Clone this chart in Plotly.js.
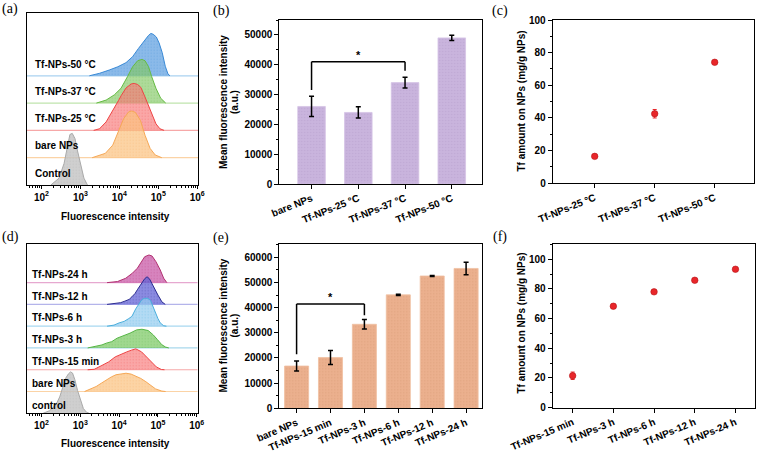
<!DOCTYPE html>
<html><head><meta charset="utf-8">
<script src="https://cdn.plot.ly/plotly-3.0.1.min.js"></script>
<style>html,body{margin:0;padding:0;background:#fff}#chart{width:760px;height:453px}</style>
</head><body><div id="chart"></div>
<script>
// ---------------- DATA ----------------
// (a) flow-cytometry histograms, temperature series (x: fluorescence intensity, y: normalized count)
const aLabels = ['Control', 'bare NPs', 'Tf-NPs-25 °C', 'Tf-NPs-37 °C', 'Tf-NPs-50 °C'];
const aControlX = [174, 282, 380, 468, 537, 617, 724, 832, 1023, 1230, 1514];
const aControlY = [0, 0.25, 0.79, 1.52, 1.85, 1.89, 1.70, 1.28, 0.67, 0.25, 0];
const aBareX = [2000, 4370, 6760, 9550, 12900, 17400, 20900, 25700, 34700, 45700, 61700, 83200, 123000];
const aBareY = [0, 0.16, 0.46, 0.95, 1.43, 1.68, 1.71, 1.66, 1.37, 0.82, 0.34, 0.10, 0];
const a25X = [2190, 3090, 4570, 5500, 7410, 9550, 11200, 14800, 20000, 24000, 29500, 35500, 43600, 56200, 70800, 87100, 110000, 141000];
const a25Y = [0, 0.06, 0.31, 0.50, 0.79, 1.10, 1.28, 1.55, 1.70, 1.72, 1.68, 1.58, 1.29, 0.91, 0.55, 0.24, 0.06, 0];
const a37X = [2570, 4570, 7410, 11000, 16200, 21900, 29500, 38000, 45700, 56200, 67600, 87100, 115000, 155000];
const a37Y = [0, 0.11, 0.30, 0.54, 0.97, 1.33, 1.55, 1.60, 1.55, 1.33, 0.97, 0.54, 0.18, 0];
const a50X = [1700, 3090, 5500, 9120, 14800, 21900, 30900, 39800, 46800, 56200, 64600, 74100, 89100, 105000, 126000, 151000, 178000, 200000];
const a50Y = [0, 0.09, 0.21, 0.33, 0.48, 0.70, 1.00, 1.20, 1.35, 1.48, 1.55, 1.52, 1.42, 1.20, 0.85, 0.35, 0.06, 0];

// (d) flow-cytometry histograms, time series
const dLabels = ['control', 'bare NPs', 'Tf-NPs-15 min', 'Tf-NPs-3 h', 'Tf-NPs-6 h', 'Tf-NPs-12 h', 'Tf-NPs-24 h'];
const dControlX = [110, 162, 234, 295, 355, 417, 490, 562, 631, 724, 851, 1023, 1202, 1445, 1698];
const dControlY = [0, 0.12, 0.38, 0.75, 1.20, 1.60, 1.80, 1.90, 1.85, 1.55, 1.05, 0.55, 0.22, 0.05, 0];
const dBareX = [1290, 1950, 2570, 3470, 4680, 6310, 8320, 11200, 15100, 20400, 26900, 36300, 49000, 66100, 87100, 126000, 158000];
const dBareY = [0, 0.12, 0.23, 0.38, 0.54, 0.67, 0.77, 0.81, 0.84, 0.80, 0.72, 0.60, 0.45, 0.28, 0.12, 0.02, 0];
const d15X = [1550, 2290, 3630, 5370, 7940, 11700, 15800, 20900, 26900, 38000, 51300, 67600, 91200, 123000, 148000];
const d15Y = [0, 0.02, 0.20, 0.36, 0.59, 0.74, 0.82, 0.90, 0.96, 0.82, 0.59, 0.36, 0.13, 0.01, 0];
const d3X = [1550, 2290, 3630, 4680, 6460, 8910, 11700, 15100, 19100, 28200, 38900, 56200, 75900, 97700, 126000, 158000, 191000];
const d3Y = [0, 0.05, 0.14, 0.22, 0.29, 0.45, 0.52, 0.62, 0.68, 0.83, 0.86, 0.80, 0.60, 0.38, 0.15, 0.04, 0];
const d6X = [4900, 7410, 10000, 13500, 17800, 21400, 26900, 32400, 38900, 45700, 55000, 64600, 74100, 87100, 100000, 115000, 141000, 166000];
const d6Y = [0, 0.05, 0.15, 0.22, 0.35, 0.45, 0.80, 1.05, 1.23, 1.28, 1.28, 1.18, 0.90, 0.62, 0.35, 0.15, 0.02, 0];
const d12X = [4900, 7410, 11000, 14100, 18200, 21400, 25700, 30200, 35500, 40700, 45700, 52500, 60300, 69200, 77600, 87100, 100000, 115000, 126000, 155000];
const d12Y = [0, 0.03, 0.08, 0.15, 0.23, 0.35, 0.50, 0.70, 0.88, 1.05, 1.18, 1.27, 1.18, 0.98, 0.80, 0.60, 0.43, 0.25, 0.12, 0];
const d24X = [4900, 9120, 14800, 21900, 29500, 38000, 45700, 58900, 70800, 89100, 115000, 141000, 170000];
const d24Y = [0, 0.05, 0.20, 0.43, 0.66, 0.96, 1.19, 1.27, 1.22, 0.96, 0.58, 0.20, 0];

// (b) mean fluorescence intensity, temperature
const bCats = ['bare NPs', 'Tf-NPs-25 °C', 'Tf-NPs-37 °C', 'Tf-NPs-50 °C'];
const bMean = [26000, 24000, 34000, 49000];
const bErr = [3400, 1900, 1800, 900];
// (e) mean fluorescence intensity, time
const eCats = ['bare NPs', 'Tf-NPs-15 min', 'Tf-NPs-3 h', 'Tf-NPs-6 h', 'Tf-NPs-12 h', 'Tf-NPs-24 h'];
const eMean = [16800, 20200, 33400, 45100, 52600, 55600];
const eErr = [2000, 2800, 1900, 250, 200, 2500];
// (c) Tf amount, temperature
const cCats = ['Tf-NPs-25 °C', 'Tf-NPs-37 °C', 'Tf-NPs-50 °C'];
const cVal = [16.5, 42.6, 74.1];
const cErr = [0.8, 2.6, 0.8];
// (f) Tf amount, time
const fCats = ['Tf-NPs-15 min', 'Tf-NPs-3 h', 'Tf-NPs-6 h', 'Tf-NPs-12 h', 'Tf-NPs-24 h'];
const fVal = [21.5, 68.3, 78.0, 85.8, 93.2];
const fErr = [2.5, 1.4, 0.8, 0.9, 0.9];
// significance brackets: [fromIndex, toIndex, leftFoot, rightFoot, top]
const bBracket = [0, 2, 31500, 38000, 41000];
const eBracket = [0, 2, 21500, 37000, 41500];

// ---------------- STYLE ----------------
const W = 760, H = 453;
const F = 'Liberation Sans, Arial, Helvetica, sans-serif';
const FS = 'Liberation Serif, Times New Roman, serif';
const px = (a, b) => [a / W, b / W];
const py = (top, bot) => [1 - bot / H, 1 - top / H];

const aStyle = [
  {line: '#a9a9a9', fill: 'rgba(195,195,195,0.8)', base: '#d4d4d4'},
  {line: '#f6a856', fill: 'rgba(252,196,130,0.72)', base: '#fbd3a6'},
  {line: '#ee4444', fill: 'rgba(248,120,120,0.65)', base: '#f6a8a8'},
  {line: '#66bb44', fill: 'rgba(130,200,100,0.65)', base: '#bfe4ad'},
  {line: '#3a8ad6', fill: 'rgba(95,160,225,0.72)', base: '#aad2f0'}
];
const dStyle = [
  {line: '#a9a9a9', fill: 'rgba(195,195,195,0.8)', base: '#d4d4d4'},
  {line: '#f6a856', fill: 'rgba(252,196,130,0.72)', base: '#fbd3a6'},
  {line: '#ee4444', fill: 'rgba(248,120,120,0.65)', base: '#f6a8a8'},
  {line: '#55b545', fill: 'rgba(120,200,95,0.7)', base: '#a8d8ec'},
  {line: '#4aaedc', fill: 'rgba(150,205,240,0.72)', base: '#a8d8f0'},
  {line: '#2c2c90', fill: 'rgba(100,100,215,0.75)', base: '#b4b4ea'},
  {line: '#b03070', fill: 'rgba(200,85,165,0.72)', base: '#e6a8d0'}
];
const aSeries = [[aControlX, aControlY], [aBareX, aBareY], [a25X, a25Y], [a37X, a37Y], [a50X, a50Y]];
const dSeries = [[dControlX, dControlY], [dBareX, dBareY], [d15X, d15Y], [d3X, d3Y], [d6X, d6Y], [d12X, d12Y], [d24X, d24Y]];

const traces = [];
const shapes = [];
const annotations = [];

function addHist(series, styles, labels, xa, ya, labelDy, labelX) {
  for (let i = series.length - 1; i >= 0; i--) {
    const [xs, ys] = series[i];
    const st = styles[i];
    traces.push({
      type: 'scatter', mode: 'lines', x: xs, y: ys.map(v => v + i),
      xaxis: xa, yaxis: ya, fill: 'toself', fillcolor: st.fill,
      fillpattern: {shape: '.', bgcolor: st.fill, fgcolor: st.line, fgopacity: 0.3, size: 3, solidity: 0.15},
      line: {color: st.line, width: 1}, hoverinfo: 'skip', showlegend: false
    });
    if (i > 0) {
      shapes.push({type: 'line', xref: xa + ' domain', yref: ya, x0: 0, x1: 1, y0: i, y1: i,
        line: {color: st.base, width: 1.2}, layer: 'below'});
    }
    annotations.push({xref: xa + ' domain', yref: ya, x: labelX, y: i + labelDy, xanchor: 'left', yanchor: 'middle',
      text: labels[i], showarrow: false, font: {family: F, size: 10, color: 'black', weight: 'bold'}});
  }
}
addHist(aSeries, aStyle, aLabels, 'x', 'y', 0.43, 0.036);
addHist(dSeries, dStyle, dLabels, 'x4', 'y4', 0.38, 0.022);

// bars
traces.push({type: 'bar', x: bCats, y: bMean, xaxis: 'x2', yaxis: 'y2', width: 0.59,
  marker: {color: '#c9b4dd', line: {color: '#d6c4e6', width: 0.8},
    pattern: {shape: '.', bgcolor: '#c9b4dd', fgcolor: '#a58cc0', fgopacity: 0.3, size: 3, solidity: 0.15}},
  error_y: {type: 'data', array: bErr, color: 'black', thickness: 1.5, width: 2.5},
  hoverinfo: 'skip', showlegend: false});
traces.push({type: 'bar', x: eCats, y: eMean, xaxis: 'x5', yaxis: 'y5', width: 0.71,
  marker: {color: '#ebb08e', line: {color: '#f0c0a2', width: 0.8},
    pattern: {shape: '.', bgcolor: '#ebb08e', fgcolor: '#c8845c', fgopacity: 0.3, size: 3, solidity: 0.15}},
  error_y: {type: 'data', array: eErr, color: 'black', thickness: 1.5, width: 2.5},
  hoverinfo: 'skip', showlegend: false});

// scatter
const ptStyle = {color: '#e8262a', size: 6.5, line: {color: '#b51418', width: 0.6}};
traces.push({type: 'scatter', mode: 'markers', x: cCats, y: cVal, xaxis: 'x3', yaxis: 'y3', marker: ptStyle,
  error_y: {type: 'data', array: cErr, color: '#e8262a', thickness: 1, width: 2}, hoverinfo: 'skip', showlegend: false});
traces.push({type: 'scatter', mode: 'markers', x: fCats, y: fVal, xaxis: 'x6', yaxis: 'y6', marker: ptStyle,
  error_y: {type: 'data', array: fErr, color: '#e8262a', thickness: 1, width: 2}, hoverinfo: 'skip', showlegend: false});

// significance brackets
function addBracket(br, xa, ya) {
  const [i0, i1, f0, f1, top] = br;
  const ln = {color: 'black', width: 1.5};
  shapes.push({type: 'line', xref: xa, yref: ya, x0: i0, x1: i0, y0: f0, y1: top, line: ln});
  shapes.push({type: 'line', xref: xa, yref: ya, x0: i0, x1: i1, y0: top, y1: top, line: ln});
  shapes.push({type: 'line', xref: xa, yref: ya, x0: i1, x1: i1, y0: top, y1: f1, line: ln});
  annotations.push({xref: xa, yref: ya, x: (i0 + i1) / 2, y: top, yanchor: 'bottom', text: '*', showarrow: false,
    yshift: -1, font: {family: F, size: 11, color: 'black', weight: 'bold'}});
}
addBracket(bBracket, 'x2', 'y2');
addBracket(eBracket, 'x5', 'y5');

// text annotations (titles, panel labels)
function ann(text, x, y, opts) {
  annotations.push(Object.assign({xref: 'paper', yref: 'paper', x: x / W, y: 1 - y / H, text: text,
    showarrow: false, xanchor: 'center', yanchor: 'middle',
    font: {family: F, size: 10, color: 'black', weight: 'bold'}}, opts || {}));
}
ann('Fluorescence intensity', 115, 216.5);
ann('Fluorescence intensity', 115, 443.5);
ann('Mean fluorescence intensity', 223, 102, {textangle: -90});
ann('(a.u.)', 234, 102, {textangle: -90});
ann('Mean fluorescence intensity', 223, 325.5, {textangle: -90});
ann('(a.u.)', 234, 325.5, {textangle: -90});
ann('Tf amount on NPs (mg/g NPs)', 521, 101.5, {textangle: -90});
ann('Tf amount on NPs (mg/g NPs)', 521, 323.5, {textangle: -90});
const pl = {font: {family: FS, size: 14, color: 'black'}};
ann('(a)', 10, 9, pl);
ann('(b)', 221, 11, pl);
ann('(c)', 500, 11, pl);
ann('(d)', 10, 237, pl);
ann('(e)', 221, 237.5, pl);
ann('(f)', 500, 237, pl);

// axes
const tf = {family: F, size: 10, color: 'black', weight: 'bold'};
function ax(extra) {
  return Object.assign({showline: true, mirror: true, linecolor: 'black', linewidth: 1, showgrid: false,
    zeroline: false, ticks: 'outside', ticklen: 4, tickwidth: 1, tickcolor: 'black', tickfont: tf,
    fixedrange: true}, extra);
}
const logX = (dom, ya) => ax({domain: dom, anchor: ya, type: 'log', range: [1.62, 6.02], dtick: 1,
  exponentformat: 'power', tickfont: {family: F, size: 8, color: 'black', weight: 'bold'},
  ticklen: 3, minor: {ticks: 'outside', ticklen: 2, tickcolor: 'black'}});
const histY = (dom, xa, top) => ax({domain: dom, anchor: xa, range: [0, top], ticks: '', showticklabels: false});

const layout = {
  width: W, height: H, margin: {l: 0, r: 0, t: 0, b: 0}, paper_bgcolor: 'white', plot_bgcolor: 'white',
  showlegend: false, hovermode: false, barmode: 'group',
  xaxis: logX(px(26.7, 198), 'y'),
  yaxis: histY(py(12.7, 185), 'x', 6.31),
  xaxis4: logX(px(26.7, 197.5), 'y4'),
  yaxis4: histY(py(244.3, 413.3), 'x4', 7.76),
  xaxis2: ax({domain: px(279.3, 481.7), anchor: 'y2', type: 'category', range: [-0.69, 3.64], tickangle: -22}),
  yaxis2: ax({domain: py(20, 184), anchor: 'x2', range: [0, 55000], dtick: 10000, tickformat: 'd',
    minor: {ticks: 'outside', ticklen: 2, dtick: 5000, tickcolor: 'black'}}),
  xaxis5: ax({domain: px(279.3, 481.7), anchor: 'y5', type: 'category', range: [-0.51, 5.46], tickangle: -23}),
  yaxis5: ax({domain: py(244.3, 408.3), anchor: 'x5', range: [0, 65200], dtick: 10000, tickformat: 'd',
    minor: {ticks: 'outside', ticklen: 2, dtick: 5000, tickcolor: 'black'}}),
  xaxis3: ax({domain: px(552.7, 754.3), anchor: 'y3', type: 'category', range: [-0.7, 2.66], tickangle: -22}),
  yaxis3: ax({domain: py(20, 183.3), anchor: 'x3', range: [0, 100], dtick: 20,
    minor: {ticks: 'outside', ticklen: 2, dtick: 10, tickcolor: 'black'}}),
  xaxis6: ax({domain: px(552.7, 755), anchor: 'y6', type: 'category', range: [-0.49, 4.48], tickangle: -23}),
  yaxis6: ax({domain: py(244.3, 407.7), anchor: 'x6', range: [0, 110], dtick: 20,
    minor: {ticks: 'outside', ticklen: 2, dtick: 10, tickcolor: 'black'}}),
  shapes: shapes, annotations: annotations
};
Plotly.newPlot('chart', traces, layout, {displayModeBar: false, staticPlot: true});
</script></body></html>
